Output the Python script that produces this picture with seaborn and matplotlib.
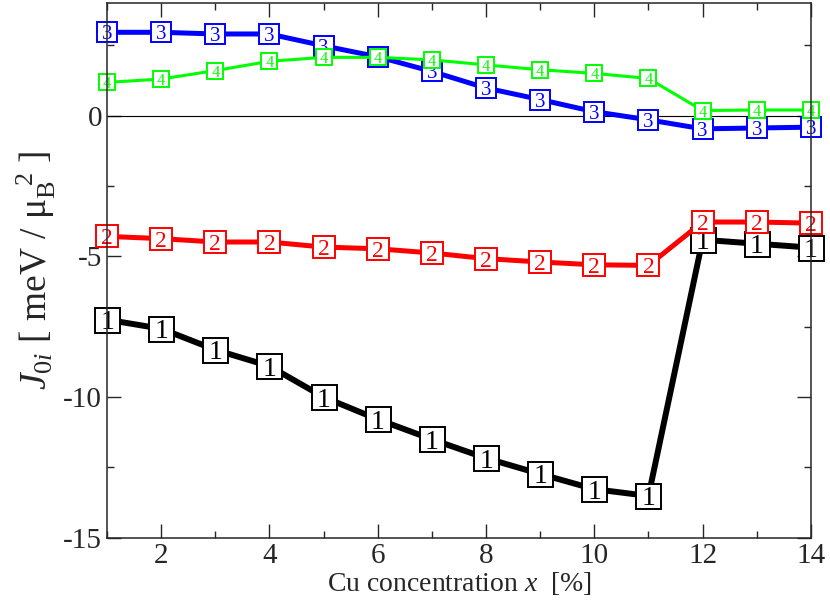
import matplotlib
matplotlib.use('Agg')
import matplotlib.pyplot as plt
import seaborn as sns
import numpy as np


# Cu concentration [%]
konc = [1, 2, 3, 4, 5, 6, 7, 8, 9, 10, 11, 12, 13, 14]

# J_0i for the four shells
j1 = [-7.25, -7.57, -8.32, -8.9, -10.0, -10.79, -11.5, -12.17, -12.73, -13.27, -13.51, -4.41, -4.55, -4.69]
j2 = [-4.29, -4.37, -4.49, -4.49, -4.67, -4.73, -4.88, -5.08, -5.2, -5.3, -5.32, -3.78, -3.78, -3.82]
j3 = [2.96, 2.96, 2.9, 2.9, 2.48, 2.09, 1.57, 0.98, 0.57, 0.14, -0.15, -0.47, -0.44, -0.41]
j4 = [1.18, 1.3, 1.6, 1.93, 2.07, 2.07, 1.98, 1.8, 1.63, 1.5, 1.32, 0.18, 0.2, 0.2]

oznake = ['1', '2', '3', '4']
boje = ['#000000', '#ff0000', '#0000ff', '#00ff00']
debljine = [4.3, 3.6, 3.6, 2.2]
markeri = [18, 16, 14, 12]
fontovi = [20, 17, 15, 12]

sns.set_style('ticks')
plt.rcParams['font.family'] = ['Liberation Serif', 'DejaVu Serif']
plt.rcParams['mathtext.fontset'] = 'custom'
plt.rcParams['mathtext.rm'] = 'Liberation Serif'
plt.rcParams['mathtext.it'] = 'Liberation Serif:italic'
plt.rcParams['axes.unicode_minus'] = False

fig = plt.figure(figsize=(8.3, 6.03), dpi=100)
ax = fig.add_axes([0.129, 0.108, 0.848, 0.887])

ax.axhline(0, color='black', lw=0.8, zorder=1)

for i, vals in enumerate([j1, j2, j3, j4]):
    z = 3 + 2 * i
    sns.lineplot(x=konc, y=vals, ax=ax, color=boje[i], lw=debljine[i],
                 marker='s', markersize=markeri[i], markerfacecolor='white',
                 markeredgecolor=boje[i], markeredgewidth=1.4,
                 clip_on=False, zorder=z)
    for xv, yv in zip(konc, vals):
        ax.text(xv, yv, oznake[i], color=boje[i], fontsize=fontovi[i],
                ha='center', va='center_baseline', zorder=z + 1)

ax.set_xlim(1, 14)
ax.set_ylim(-15, 4)
ax.set_xticks([2, 4, 6, 8, 10, 12, 14])
ax.set_xticks(np.arange(1, 15, 1), minor=True)
ax.set_yticks([-15, -10, -5, 0])
ax.set_yticks(np.arange(-15, 4, 2.5), minor=True)
ax.tick_params(which='both', direction='in', top=True, right=True, labelsize=21, width=1.0)
ax.tick_params(which='major', length=10)
ax.tick_params(which='minor', length=5)
for s in ax.spines.values():
    s.set_linewidth(1.1)
    s.set_zorder(20)

ax.set_xlabel(r'Cu concentration $x$  [%]', fontsize=20, labelpad=1)
ax.set_ylabel(r'$J_{0i}$ [ meV / μ$_\mathrm{B}^{\ \ 2}$ ]', fontsize=27, labelpad=4)

fig.savefig('out.png', dpi=100)
